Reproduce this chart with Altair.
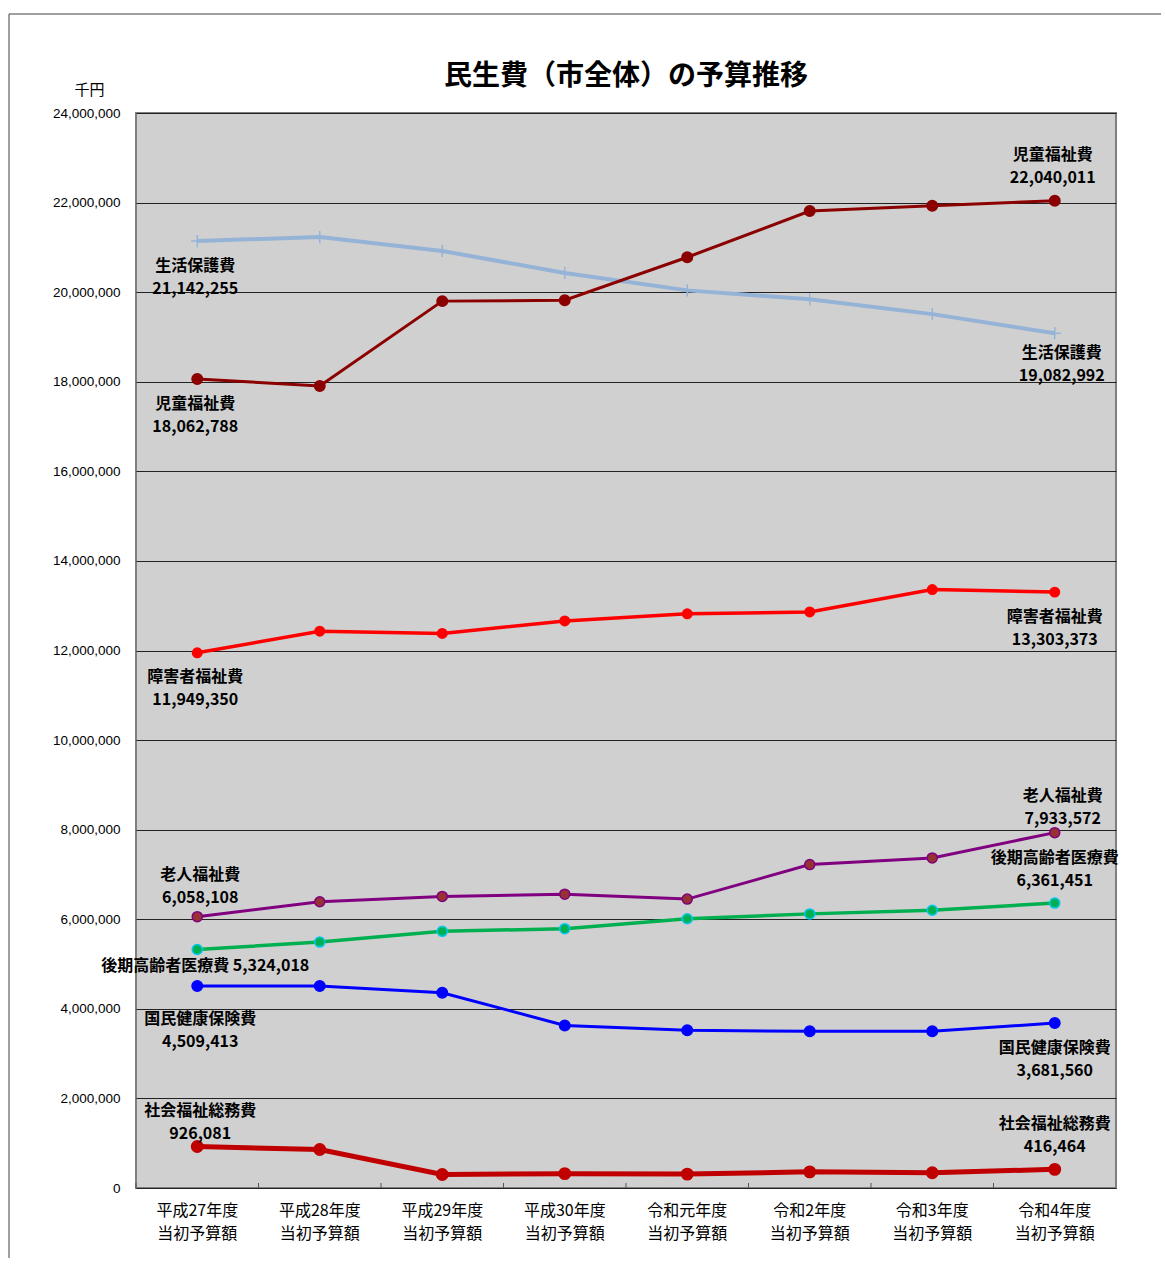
import altair as alt
import pandas as pd

# ---------------- data ----------------
categories = ["平成27年度", "平成28年度", "平成29年度", "平成30年度",
              "令和元年度", "令和2年度", "令和3年度", "令和4年度"]
second_line = "当初予算額"
unit_label = "千円"
title_text = "民生費（市全体）の予算推移"

series_names = ["生活保護費", "児童福祉費", "障害者福祉費", "老人福祉費",
                "後期高齢者医療費", "国民健康保険費", "社会福祉総務費"]

seikatsu = [21142255, 21230000, 20920000, 20430000, 20040000, 19840000, 19510000, 19082992]
jidou = [18062788, 17905000, 19800000, 19820000, 20780000, 21810000, 21930000, 22040011]
shougai = [11949350, 12430000, 12380000, 12660000, 12820000, 12860000, 13360000, 13303373]
roujin = [6058108, 6390000, 6510000, 6560000, 6450000, 7220000, 7370000, 7933572]
kouki = [5324018, 5490000, 5730000, 5790000, 6010000, 6120000, 6200000, 6361451]
kokuho = [4509413, 4510000, 4360000, 3630000, 3520000, 3500000, 3500000, 3681560]
soumu = [926081, 860000, 300000, 320000, 310000, 360000, 340000, 416464]

series_values = [seikatsu, jidou, shougai, roujin, kouki, kokuho, soumu]
y_ticks = list(range(0, 24000001, 2000000))

# ---------------- styles ----------------
styles = {
    "生活保護費": dict(line="#95b3d7", width=4, marker="plus", fill="#95b3d7", stroke="#95b3d7", size=150),
    "児童福祉費": dict(line="#8b0000", width=3, marker="circle", fill="#8b0000", stroke="#8b0000", size=110),
    "障害者福祉費": dict(line="#ff0000", width=3.5, marker="circle", fill="#ff0000", stroke="#ff0000", size=90),
    "老人福祉費": dict(line="#800080", width=3, marker="circle", fill="#963232", stroke="#800080", size=100),
    "後期高齢者医療費": dict(line="#00b050", width=3.5, marker="circle", fill="#00b050", stroke="#00c8f0", size=100),
    "国民健康保険費": dict(line="#0000ff", width=3, marker="circle", fill="#0000ff", stroke="#0000ff", size=110),
    "社会福祉総務費": dict(line="#c00000", width=5, marker="circle", fill="#c00000", stroke="#c00000", size=130),
}

# label offsets: (index, dx, dy of first line, single_line)
label_offsets = {
    "生活保護費": [(0, -2, 25, False), (7, 7, 20, False)],
    "児童福祉費": [(0, -2, 25, False), (7, -2, -46, False)],
    "障害者福祉費": [(0, -2, 24, False), (7, 0, 25, False)],
    "老人福祉費": [(0, 3, -42, False), (7, 8, -37, False)],
    "後期高齢者医療費": [(0, 8, 16, True), (7, 0, -45, False)],
    "国民健康保険費": [(0, 3, 33, False), (7, 0, 25, False)],
    "社会福祉総務費": [(0, 3, -36, False), (7, 0, -45, False)],
}
LINE_GAP = 23
CJK = "Noto Sans CJK JP"

# ---------------- encodings ----------------
x_scale = alt.Scale(type="band", domain=categories, paddingInner=0, paddingOuter=0)
x_axis = alt.Axis(
    title=None,
    labelExpr="[datum.label, '" + second_line + "']",
    labelFont=CJK, labelFontSize=16, labelColor="black",
    labelLineHeight=23, labelPadding=14, labelAngle=0,
    ticks=False, domain=False, grid=False,
)
y_scale = alt.Scale(domain=[0, 24000000], nice=False, zero=True)
y_axis = alt.Axis(
    values=y_ticks, format=",.0f",
    labelFont="Liberation Sans", labelFontSize=13.5, labelColor="black", labelPadding=16,
    grid=True, gridColor="#222222", gridWidth=1, domain=False, ticks=False,
    title=unit_label, titleAngle=0, titleX=-47, titleY=-24,
    titleFont=CJK, titleFontSize=15, titleFontWeight="normal",
    titleAlign="center", titleBaseline="middle", titleColor="black",
)


def xenc(band=0.5):
    return alt.X("category:N", scale=x_scale, axis=x_axis, bandPosition=band)


yenc = alt.Y("value:Q", scale=y_scale, axis=y_axis)

layers = []

# inward tick marks at band boundaries
tick_df = pd.DataFrame({"category": categories})
layers.append(
    alt.Chart(tick_df).mark_rule(color="#555555", strokeWidth=1).encode(
        x=xenc(0), y=alt.value(1075), y2=alt.value(1070)
    )
)

for name, vals in zip(series_names, series_values):
    st = styles[name]
    df = pd.DataFrame({"category": categories, "value": vals})
    layers.append(
        alt.Chart(df).mark_line(color=st["line"], strokeWidth=st["width"]).encode(x=xenc(), y=yenc)
    )
    if st["marker"] == "plus":
        layers.append(
            alt.Chart(df).mark_point(
                shape="M-1,0L1,0M0,-1L0,1", filled=False, stroke=st["stroke"],
                strokeWidth=1.5, size=st["size"], opacity=1
            ).encode(x=xenc(), y=yenc)
        )
    else:
        layers.append(
            alt.Chart(df).mark_point(
                shape="circle", filled=True, fill=st["fill"], stroke=st["stroke"],
                strokeWidth=1.5, size=st["size"], opacity=1
            ).encode(x=xenc(), y=yenc)
        )

for name, vals in zip(series_names, series_values):
    for idx, dx, dy, single in label_offsets[name]:
        val_txt = f"{vals[idx]:,}"
        if single:
            lines = [(name + " " + val_txt, dy)]
        else:
            lines = [(name, dy), (val_txt, dy + LINE_GAP)]
        for txt, ddy in lines:
            tdf = pd.DataFrame({"category": [categories[idx]], "value": [vals[idx]], "text": [txt]})
            layers.append(
                alt.Chart(tdf).mark_text(
                    font=CJK, fontSize=16, fontWeight="bold", color="black",
                    align="center", baseline="middle", dx=dx, dy=ddy
                ).encode(x=xenc(), y=yenc, text="text:N")
            )

# outer frame (left and top edges)
frame_df = pd.DataFrame({"a": [0]})
layers.append(
    alt.Chart(frame_df).mark_rule(color="#404040", strokeWidth=1).encode(
        x=alt.value(-127), y=alt.value(-99), y2=alt.value(1145)
    )
)
layers.append(
    alt.Chart(frame_df).mark_rule(color="#404040", strokeWidth=1).encode(
        x=alt.value(-127), x2=alt.value(1025), y=alt.value(-99)
    )
)

chart = alt.layer(*layers).properties(
    width=980,
    height=1075,
    title=alt.TitleParams(
        text=title_text, font=CJK, fontSize=28, fontWeight="bold", color="black",
        anchor="middle", frame="group", baseline="middle", offset=-91,
    ),
    padding={"left": 8, "top": 13, "right": 0, "bottom": 0},
).configure(
    background="white",
    view=alt.ViewConfig(fill="#d0d0d0", stroke="#7f7f7f", strokeWidth=2),
)

chart.save("out.html", embed_options={"renderer": "svg", "actions": False})
